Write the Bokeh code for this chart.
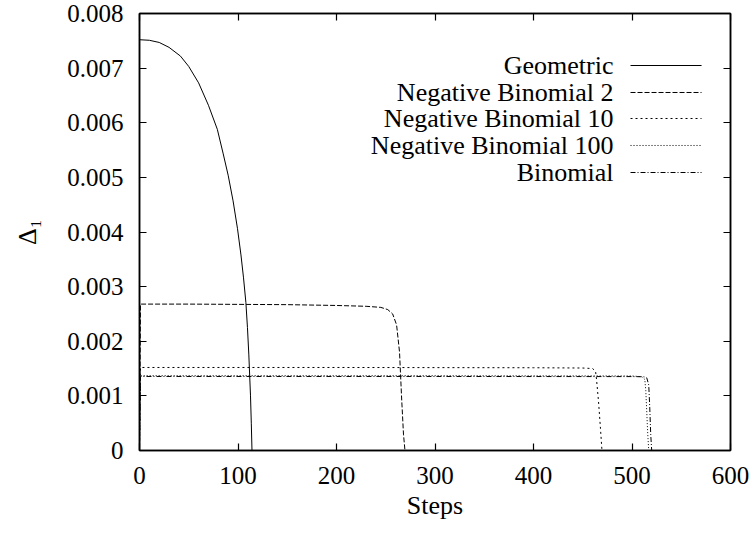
from bokeh.plotting import figure
from bokeh.models import Range1d, FixedTicker, LinearAxis, CustomJSTickFormatter
from bokeh.core.properties import value
from bokeh.embed import file_html
from bokeh.resources import INLINE

# ---- data ----
geo_x = [0, 10, 20, 30, 41.6, 50, 60, 70, 79, 85, 90, 95, 99.5, 103, 105.6, 108, 109.6, 111, 112.7, 113.5, 114.2, 600]
geo_y = [0.00752, 0.00751, 0.00747, 0.00738, 0.00722, 0.00703, 0.00673, 0.00632, 0.00588, 0.00543, 0.00504,
         0.00457, 0.00406, 0.00358, 0.00316, 0.00271, 0.00225, 0.00175, 0.00100, 0.00050, 0.0, 0.0]

nb2_x = [0, 1, 50, 100, 150, 200, 230, 245, 252, 257, 261, 264, 266, 268, 269.5, 600]
nb2_y = [0.0, 0.00268, 0.00268, 0.002675, 0.00267, 0.002655, 0.00264, 0.00262, 0.00258, 0.00250, 0.00230,
         0.00180, 0.00100, 0.00030, 0.0, 0.0]

nb10_x = [0, 1, 200, 400, 450, 460, 463, 464, 466, 468, 469.5, 600]
nb10_y = [0.0, 0.00152, 0.00152, 0.001515, 0.00151, 0.00150, 0.00145, 0.00130, 0.00090, 0.00040, 0.0, 0.0]

nb100_x = [0, 1, 300, 500, 510, 513, 514, 515, 516, 517, 600]
nb100_y = [0.0, 0.00137, 0.00137, 0.001365, 0.00135, 0.00130, 0.00110, 0.00070, 0.00030, 0.0, 0.0]

bin_x = [0, 1, 300, 500, 512, 515, 517, 518, 519, 520, 600]
bin_y = [0.0, 0.001355, 0.001355, 0.001353, 0.00135, 0.00133, 0.00120, 0.00080, 0.00030, 0.0, 0.0]

series_names = ["Geometric", "Negative Binomial 2", "Negative Binomial 10", "Negative Binomial 100", "Binomial"]
x_ticks = [0, 100, 200, 300, 400, 500, 600]
y_ticks = [0, 0.001, 0.002, 0.003, 0.004, 0.005, 0.006, 0.007, 0.008]

FONT = "'Liberation Serif', 'Times New Roman', serif"
FS = "26px"

p = figure(width=753, height=534, output_backend="svg", toolbar_location=None,
           x_range=Range1d(0, 600), y_range=Range1d(0, 0.008),
           min_border_left=139, min_border_right=23, min_border_top=13, min_border_bottom=84)
p.background_fill_color = "white"
p.border_fill_color = "white"
p.grid.visible = False
p.outline_line_color = "black"
p.outline_line_width = 1.5

fmt = CustomJSTickFormatter(code="return tick == 0 ? '0' : tick.toFixed(3);")

for ax in [p.xaxis[0], p.yaxis[0]]:
    ax.major_tick_in = 7
    ax.major_tick_out = 0
    ax.minor_tick_in = 0
    ax.minor_tick_out = 0
    ax.axis_line_width = 1.5
    ax.major_tick_line_width = 1.2
    ax.major_label_text_font = FONT
    ax.major_label_text_font_size = "25px"
    ax.major_label_text_color = "black"
    ax.axis_label_text_font = FONT
    ax.axis_label_text_font_size = FS
    ax.axis_label_text_font_style = "normal"
    ax.axis_label_text_color = "black"

p.xaxis[0].ticker = FixedTicker(ticks=x_ticks)
p.yaxis[0].ticker = FixedTicker(ticks=y_ticks)
p.yaxis[0].formatter = fmt
p.xaxis[0].major_label_standoff = 16
p.yaxis[0].major_label_standoff = 16
p.xaxis[0].axis_label = "Steps"
p.yaxis[0].axis_label = "Δ₁"
p.xaxis[0].axis_label_standoff = 4
p.yaxis[0].axis_label_standoff = 22

# mirror axes (ticks only)
for loc, tk in [("right", y_ticks), ("above", x_ticks)]:
    ax = LinearAxis(ticker=FixedTicker(ticks=tk))
    ax.major_tick_in = 7
    ax.major_tick_out = 0
    ax.minor_tick_in = 0
    ax.minor_tick_out = 0
    ax.axis_line_width = 1.5
    ax.major_tick_line_width = 1.2
    ax.major_label_text_font_size = "0px"
    ax.major_label_standoff = 0
    ax.major_label_text_alpha = 0
    p.add_layout(ax, loc)

styles = [None, "5 2", "2 3", "1 2", "5 2 1 2"]
xs = [geo_x, nb2_x, nb10_x, nb100_x, bin_x]
ys = [geo_y, nb2_y, nb10_y, nb100_y, bin_y]
for x, y, d in zip(xs, ys, styles):
    kw = {} if d is None else {"line_dash": d}
    p.line(x, y, line_color="black", line_width=1, **kw)

# manual legend (text right-aligned, sample line to the right), in data coords
leg_text_x = 481.2
leg_line_x0, leg_line_x1 = 498.5, 570.6
leg_rows = [0.007048, 0.006554, 0.006078, 0.005584, 0.005089]
p.text(x=[leg_text_x] * 5, y=leg_rows, text=series_names, text_align="right", text_baseline="middle",
       text_font=value(FONT), text_font_size=FS, text_color="black")
for yy, d in zip(leg_rows, styles):
    kw = {} if d is None else {"line_dash": d}
    p.line([leg_line_x0, leg_line_x1], [yy, yy], line_color="black", line_width=1, **kw)

open("out.html", "w").write(file_html(p, INLINE))
